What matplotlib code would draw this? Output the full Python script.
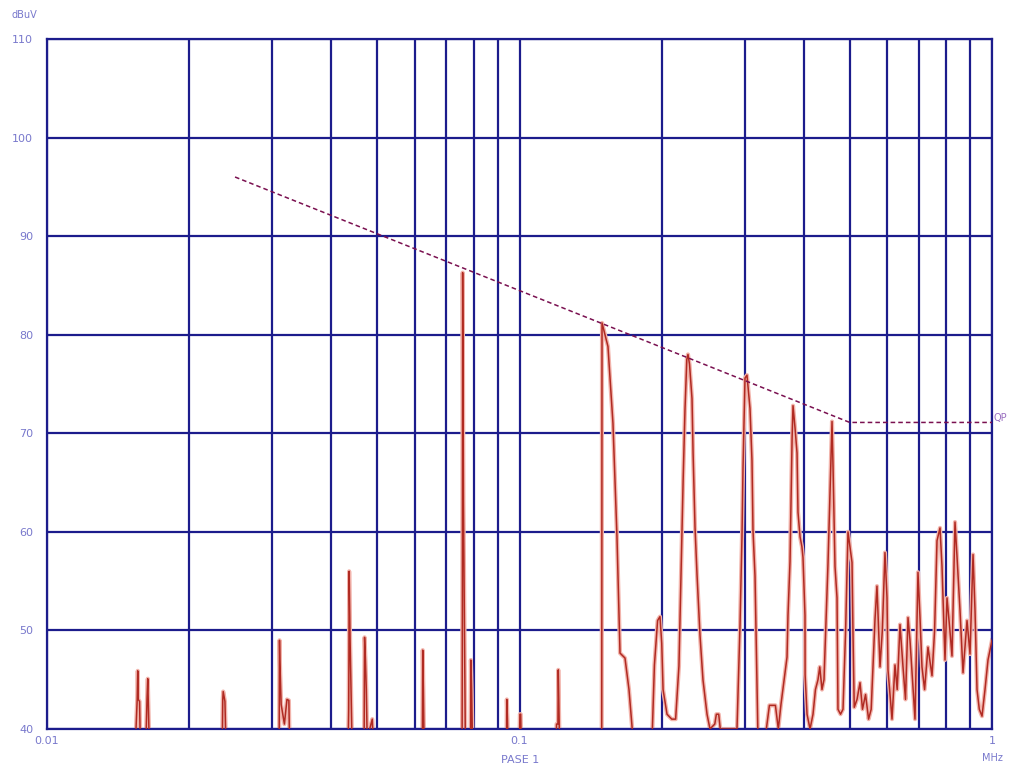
# EMI conducted emission scan, QP limit
import numpy as np
import matplotlib.pyplot as plt

# measured trace (MHz, dBuV); values below 40 fall off the bottom of the plot
freq_mhz = [
    0.0154, 0.01552, 0.01556, 0.0156, 0.0157, 0.01575,
    0.0162, 0.01628, 0.01634, 0.0164, 0.01645,
    0.0235, 0.02355, 0.0236, 0.0238, 0.0239,
    0.0310, 0.03105, 0.0311, 0.0313, 0.0318, 0.0322, 0.0325, 0.0326,
    0.0434, 0.0435, 0.04355, 0.0436, 0.0438, 0.0440, 0.0442,
    0.0469, 0.0470, 0.0472, 0.0474, 0.0476, 0.0488, 0.0490,
    0.0623, 0.0624, 0.0626, 0.0628,
    0.0756, 0.0757, 0.0758, 0.0761, 0.0765, 0.0768,
    0.0788, 0.0789, 0.0792, 0.0795,
    0.0939, 0.0940, 0.0943, 0.0945,
    0.1000, 0.1002, 0.1006, 0.1008,
    0.1195, 0.1198, 0.1206, 0.1208, 0.1212, 0.1215,
    # 0.15 MHz peak
    0.1493, 0.1495, 0.1517, 0.1539, 0.1577, 0.1608, 0.1632, 0.1672, 0.1705, 0.1739,
    # bump and 0.23 MHz peak
    0.1908, 0.1930, 0.1960, 0.1983, 0.2000, 0.2013, 0.2052, 0.2100, 0.2140,
    0.2175, 0.2208, 0.2220, 0.2240, 0.2260, 0.2273, 0.2290, 0.2318, 0.2330,
    0.2352, 0.2375, 0.2410, 0.2445, 0.2494, 0.2530,
    0.2590, 0.2610, 0.2640, 0.2660,
    # 0.30 MHz peak
    0.2886, 0.2929, 0.2957, 0.2972, 0.3001, 0.3030, 0.3045, 0.3075, 0.3105,
    0.3120, 0.3151, 0.3180, 0.3197,
    0.3330, 0.3380, 0.3480, 0.3530,
    # 0.38 MHz peak
    0.3576, 0.3683, 0.3700, 0.3737, 0.3775, 0.3792, 0.3830, 0.3867, 0.3885,
    0.3924, 0.3960, 0.3981, 0.4020, 0.4022, 0.4060, 0.4120,
    0.4180, 0.4230, 0.4283, 0.4320, 0.4367, 0.4410,
    # 0.46 MHz peak
    0.4497, 0.4586, 0.4608, 0.4653, 0.4699, 0.4721, 0.4780, 0.4838,
    0.4900, 0.4957, 0.5055, 0.5079, 0.5110,
    0.5180, 0.5256, 0.5320, 0.5400, 0.5480,
    # dense region above 0.5 MHz
    0.5550, 0.5654, 0.5709, 0.5794, 0.5860, 0.5936, 0.5995, 0.6024, 0.6143,
    0.6233, 0.6300, 0.6387, 0.6481, 0.6560, 0.6641, 0.6706, 0.6871,
    0.6972, 0.7041, 0.7109, 0.7200, 0.7320, 0.7465, 0.7560,
    0.7649, 0.7762, 0.7838, 0.7953, 0.8031, 0.8149, 0.8229,
    0.8350, 0.8432, 0.8557, 0.8683, 0.8854, 0.8984,
    0.9117, 0.9206, 0.9296, 0.9400, 0.9525, 0.9665, 0.9807, 1.0,
]
level_dbuv = [
    39, 43, 45.9, 43, 42.8, 39,
    39, 43, 45.1, 42, 39,
    39, 43, 43.8, 42.8, 39,
    39, 49, 47, 42.5, 40.5, 43, 42.9, 39,
    39, 42, 47, 56, 49, 44, 39,
    39, 49.3, 47, 44, 39, 41, 39,
    39, 48, 44, 39,
    39, 52, 86.3, 63, 50, 39,
    39, 47, 44, 39,
    39, 43, 41, 39,
    39, 41.5, 41.5, 39,
    39, 40.5, 40.5, 46, 42, 39,
    39, 81.2, 80, 78.8, 71, 59.5, 47.7, 47.2, 44, 39,
    39, 46.5, 51, 51.4, 48.7, 44, 41.5, 41, 41,
    46.4, 60, 65.3, 72.4, 77.5, 78, 77, 73.5, 68,
    60.5, 55.7, 49.5, 45, 41.5, 40,
    40.5, 41.5, 41.5, 40,
    40, 50.6, 59.5, 66.5, 75.6, 75.9, 74.8, 72.5, 67.2,
    60.2, 55.5, 45, 39,
    40, 42.4, 42.4, 40,
    42.5, 47.3, 51.5, 57, 69.5, 72.8, 70.5, 68, 62,
    59.5, 58.5, 57.4, 51.5, 45.5, 41.5, 40,
    41.5, 44, 45, 46.3, 44, 45,
    56.8, 71.2, 66.7, 56.5, 53.3, 42, 41.5, 42,
    50, 60, 56.9, 49.8, 42.2,
    43, 44.7, 42, 43.5, 41,
    42, 51.1, 54.5, 46.3, 50, 57.9, 53.3, 46, 41,
    46.5, 44, 50.6, 46.3, 43, 51.3, 49, 41,
    55.9, 51.3, 46.3, 44, 48.3, 45.4, 50,
    59.1, 60.4, 56.5, 47, 53.3, 49.9, 47.4,
    61.0, 57.5, 52, 45.7, 51, 47.6,
    57.7, 52, 44, 42, 41.3, 44, 47, 49,
]

# QP limit line
limit_freq = [0.025, 0.5, 1.0]
limit_level = [96, 71.1, 71.1]

grid_freqs = [m * 10.0 ** e for e in (-2, -1) for m in range(1, 10)] + [1.0]
y_ticks = [40, 50, 60, 70, 80, 90, 100, 110]

grid_c = '#1c1c8c'
text_c = '#7878cc'

fig = plt.figure(figsize=(10.17, 7.67), dpi=100)
ax = fig.add_axes([47 / 1017, 1 - 729 / 767, 945 / 1017, 690 / 767])

ax.set_xscale('log')
ax.set_xlim(0.01, 1.0)
ax.set_ylim(40, 110)

for f in grid_freqs:
    ax.axvline(f, color=grid_c, lw=1.6, zorder=1)
for y in y_ticks:
    ax.axhline(y, color=grid_c, lw=1.6, zorder=1)
for s in ax.spines.values():
    s.set_color(grid_c)
    s.set_linewidth(1.6)

# trace: pink halo under a dark red line
ax.plot(freq_mhz, level_dbuv, color='#f2b4ac', lw=3.0, zorder=2)
ax.plot(freq_mhz, level_dbuv, color='#b02a22', lw=1.1, zorder=3)

ax.plot(limit_freq, limit_level, color='#7a1050', lw=1.1,
        linestyle=(0, (3, 2)), zorder=4)
ax.text(1.005, 71.5, 'QP', color='#9a70c0', fontsize=7, va='center',
        ha='left', clip_on=False)

ax.set_yticks(y_ticks)
ax.set_yticklabels([str(v) for v in y_ticks])
ax.set_xticks([0.01, 0.1, 1.0])
ax.set_xticklabels(['0.01', '0.1', '1'])
ax.minorticks_off()
ax.tick_params(length=0, colors=text_c, labelsize=8)
ax.tick_params(axis='y', pad=10)
ax.tick_params(axis='x', pad=5)

fig.text(12 / 1017, 1 - 15 / 767, 'dBuV', color=text_c, fontsize=7,
         va='center', ha='left')
fig.text(992 / 1017, 1 - 758 / 767, 'MHz', color=text_c, fontsize=7,
         va='center', ha='center')
fig.text(520 / 1017, 2 / 767, 'PASE 1', color=text_c, fontsize=8,
         va='bottom', ha='center')

fig.savefig('out.png', dpi=100, facecolor='white')
